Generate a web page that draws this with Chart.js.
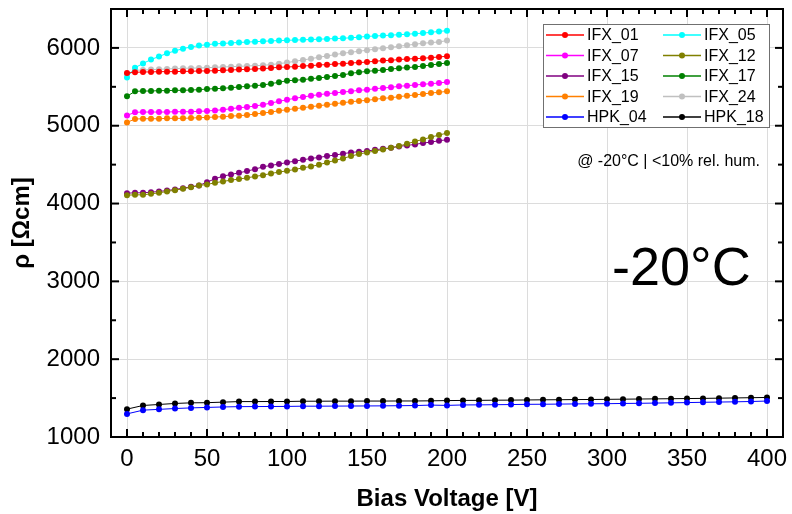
<!DOCTYPE html>
<html>
<head>
<meta charset="utf-8">
<script src="https://cdn.jsdelivr.net/npm/chart.js@4.4.1/dist/chart.umd.min.js"></script>
<style>
  html, body { margin: 0; padding: 0; background: #fff; }
</style>
</head>
<body>
<canvas id="chart" width="792" height="514"></canvas>
<script>
// bias voltage steps (V)
const ifxVoltage = [0, 5, 10, 15, 20, 25, 30, 35, 40, 45, 50, 55, 60, 65, 70, 75, 80, 85, 90, 95, 100,
  105, 110, 115, 120, 125, 130, 135, 140, 145, 150, 155, 160, 165, 170, 175, 180, 185, 190, 195, 200]
const hpkVoltage = [0, 10, 20, 30, 40, 50, 60, 70, 80, 90, 100, 110, 120, 130, 140, 150, 160, 170, 180, 190, 200,
  210, 220, 230, 240, 250, 260, 270, 280, 290, 300, 310, 320, 330, 340, 350, 360, 370, 380, 390, 400]

// resistivity (Ohm cm)
const ifx01 = [5678, 5686, 5691, 5691, 5695, 5695, 5695, 5699, 5699, 5704, 5704, 5708, 5712, 5716, 5721, 5725, 5729, 5734, 5742, 5751, 5755,
  5759, 5768, 5772, 5781, 5785, 5794, 5798, 5807, 5811, 5819, 5828, 5837, 5841, 5850, 5858, 5862, 5867, 5875, 5884, 5892]
const ifx05 = [5620, 5745, 5800, 5850, 5890, 5930, 5962, 5990, 6012, 6030, 6042, 6052, 6058, 6064, 6070, 6075, 6080, 6085, 6090, 6094, 6098,
  6101, 6104, 6108, 6112, 6116, 6120, 6124, 6130, 6138, 6148, 6153, 6158, 6164, 6170, 6176, 6183, 6190, 6200, 6212, 6222]
const ifx07 = [5133, 5172, 5176, 5176, 5176, 5176, 5180, 5180, 5180, 5185, 5189, 5197, 5206, 5219, 5232, 5240, 5253, 5270, 5292, 5313, 5335,
  5352, 5369, 5386, 5399, 5412, 5421, 5433, 5442, 5455, 5463, 5476, 5485, 5493, 5506, 5515, 5523, 5532, 5541, 5549, 5562]
const ifx12 = [4108, 4112, 4112, 4125, 4138, 4155, 4172, 4189, 4211, 4232, 4245, 4267, 4284, 4301, 4314, 4331, 4348, 4365, 4387, 4404, 4421,
  4438, 4459, 4477, 4498, 4528, 4554, 4580, 4610, 4636, 4657, 4674, 4695, 4717, 4738, 4768, 4798, 4824, 4854, 4880, 4906]
const ifx15 = [4133, 4138, 4138, 4146, 4155, 4168, 4181, 4198, 4215, 4232, 4275, 4318, 4352, 4374, 4395, 4417, 4442, 4472, 4490, 4507, 4528,
  4545, 4562, 4580, 4592, 4610, 4623, 4640, 4657, 4666, 4674, 4691, 4704, 4717, 4734, 4747, 4760, 4777, 4790, 4807, 4820]
const ifx17 = [5378, 5442, 5446, 5446, 5451, 5451, 5455, 5455, 5459, 5463, 5472, 5476, 5481, 5489, 5498, 5506, 5515, 5523, 5541, 5558, 5579,
  5584, 5592, 5605, 5614, 5627, 5639, 5652, 5674, 5686, 5699, 5708, 5716, 5729, 5738, 5747, 5755, 5768, 5781, 5794, 5807]
const ifx19 = [5043, 5086, 5090, 5090, 5090, 5095, 5095, 5095, 5099, 5103, 5107, 5112, 5116, 5124, 5129, 5137, 5150, 5163, 5176, 5193, 5206,
  5219, 5232, 5245, 5257, 5270, 5283, 5296, 5309, 5318, 5326, 5339, 5352, 5360, 5373, 5386, 5395, 5408, 5421, 5429, 5442]
const ifx24 = [5665, 5712, 5716, 5721, 5725, 5729, 5734, 5738, 5740, 5742, 5746, 5751, 5755, 5759, 5763, 5768, 5772, 5776, 5785, 5798, 5811,
  5828, 5845, 5862, 5880, 5897, 5914, 5931, 5944, 5957, 5970, 5983, 5995, 6008, 6021, 6034, 6047, 6060, 6068, 6077, 6094]
const hpk04 = [1297, 1345, 1355, 1366, 1374, 1380, 1386, 1390, 1391, 1392, 1393, 1396, 1396, 1397, 1398, 1399, 1400, 1402, 1404, 1410, 1406,
  1412, 1413, 1415, 1417, 1420, 1421, 1423, 1425, 1427, 1428, 1431, 1433, 1436, 1439, 1442, 1446, 1449, 1452, 1456, 1462]
const hpk18 = [1358, 1405, 1418, 1431, 1439, 1441, 1448, 1455, 1455, 1456, 1456, 1460, 1460, 1461, 1461, 1462, 1462, 1463, 1463, 1465, 1468,
  1470, 1471, 1473, 1474, 1476, 1478, 1479, 1481, 1482, 1484, 1486, 1488, 1490, 1492, 1494, 1496, 1499, 1502, 1505, 1508]

// axis tick labels
const xTicks = [0, 50, 100, 150, 200, 250, 300, 350, 400]
const yTicks = [1000, 2000, 3000, 4000, 5000, 6000]

const seriesList = [
  { label: 'IFX_01', volt: ifxVoltage, values: ifx01, color: '#ff0000' },
  { label: 'IFX_05', volt: ifxVoltage, values: ifx05, color: '#00ffff' },
  { label: 'IFX_07', volt: ifxVoltage, values: ifx07, color: '#ff00ff' },
  { label: 'IFX_12', volt: ifxVoltage, values: ifx12, color: '#808000' },
  { label: 'IFX_15', volt: ifxVoltage, values: ifx15, color: '#800080' },
  { label: 'IFX_17', volt: ifxVoltage, values: ifx17, color: '#008000' },
  { label: 'IFX_19', volt: ifxVoltage, values: ifx19, color: '#ff8000' },
  { label: 'IFX_24', volt: ifxVoltage, values: ifx24, color: '#c0c0c0' },
  { label: 'HPK_04', volt: hpkVoltage, values: hpk04, color: '#0000ff' },
  { label: 'HPK_18', volt: hpkVoltage, values: hpk18, color: '#000000' },
]

const FONT = "'Liberation Sans', Arial, sans-serif"

// frame, inward ticks, legend box and the two notes
const decorations = {
  id: 'decorations',
  afterDraw(chart) {
    const { ctx, chartArea: a, scales: { x, y } } = chart
    ctx.save()
    ctx.strokeStyle = '#000'
    ctx.lineWidth = 2
    const seg = (x1, y1, x2, y2) => { ctx.beginPath(); ctx.moveTo(x1, y1); ctx.lineTo(x2, y2); ctx.stroke() }
    for (let v = 0; v <= 400; v += 10) {
      const px = x.getPixelForValue(v)
      const len = v % 50 === 0 ? 8 : 5
      seg(px, a.bottom, px, a.bottom - len)
      seg(px, a.top, px, a.top + len)
    }
    for (let v = 1000; v <= 6500; v += 500) {
      const py = y.getPixelForValue(v)
      const len = v % 1000 === 0 ? 8 : 5
      seg(a.left, py, a.left + len, py)
      seg(a.right, py, a.right - len, py)
    }
    ctx.strokeRect(a.left, a.top, a.right - a.left, a.bottom - a.top)

    // legend
    const bx = a.right - 240, by = a.top + 15, bw = 226, bh = 103
    ctx.fillStyle = '#fff'
    ctx.fillRect(bx, by, bw, bh)
    ctx.lineWidth = 1
    ctx.strokeStyle = '#707070'
    ctx.strokeRect(bx + 0.5, by + 0.5, bw, bh)
    ctx.font = '16px ' + FONT
    ctx.textBaseline = 'middle'
    ctx.textAlign = 'left'
    chart.data.datasets.forEach((ds, i) => {
      const col = i % 2, row = Math.floor(i / 2)
      const cx = bx + (col === 0 ? 3 : 120)
      const cy = by + 11 + row * 20.5
      ctx.strokeStyle = ds.borderColor
      ctx.lineWidth = 1.5
      seg(cx, cy, cx + 38, cy)
      ctx.fillStyle = ds.borderColor
      ctx.beginPath(); ctx.arc(cx + 19, cy, 3, 0, Math.PI * 2); ctx.fill()
      ctx.fillStyle = '#000'
      ctx.fillText(ds.label, cx + 41, cy + 1)
    })

    ctx.font = '16px ' + FONT
    ctx.textAlign = 'right'
    ctx.fillText('@ -20°C | <10% rel. hum.', a.right - 23, a.top + 153)

    ctx.font = '54px ' + FONT
    ctx.textAlign = 'left'
    ctx.textBaseline = 'alphabetic'
    ctx.fillText('-20°C', a.right - 171, a.top + 276)
    ctx.restore()
  }
}

new Chart(document.getElementById('chart'), {
  type: 'line',
  data: {
    datasets: seriesList.map(s => ({
      label: s.label,
      data: s.values.map((v, i) => ({ x: s.volt[i], y: v })),
      borderColor: s.color,
      backgroundColor: s.color,
      pointBackgroundColor: s.color,
      pointBorderWidth: 0,
      pointRadius: 3,
      borderWidth: 1,
      tension: 0,
      fill: false,
    }))
  },
  options: {
    responsive: false,
    animation: false,
    layout: { padding: { top: 9, right: 9, left: 0, bottom: 0 } },
    plugins: { legend: { display: false }, tooltip: { enabled: false } },
    scales: {
      x: {
        type: 'linear',
        min: -10,
        max: 410,
        afterBuildTicks: s => { s.ticks = xTicks.map(v => ({ value: v })) },
        afterFit: s => { s.height = 77; s.paddingLeft = 0; s.paddingRight = 0 },
        ticks: { color: '#000', font: { size: 24, family: FONT }, padding: 7.5, maxRotation: 0, autoSkip: false, callback: v => String(v) },
        grid: { color: '#dcdcdc', drawTicks: false },
        border: { display: false },
        title: { display: true, text: 'Bias Voltage [V]', color: '#000', font: { size: 24, weight: 'bold', family: FONT }, padding: { top: 0, bottom: 0 } }
      },
      y: {
        type: 'linear',
        min: 1000,
        max: 6500,
        afterBuildTicks: s => { s.ticks = yTicks.map(v => ({ value: v })) },
        afterFit: s => { s.width = 111; s.paddingTop = 0; s.paddingBottom = 0 },
        ticks: { color: '#000', font: { size: 24, family: FONT }, padding: 11, callback: v => String(v) },
        grid: { color: '#dcdcdc', drawTicks: false },
        border: { display: false },
        title: { display: true, text: 'ρ [Ωcm]', color: '#000', font: { size: 24, weight: 'bold', family: FONT }, padding: { top: 7.6, bottom: 0 } }
      }
    }
  },
  plugins: [decorations]
})
</script>
</body>
</html>
